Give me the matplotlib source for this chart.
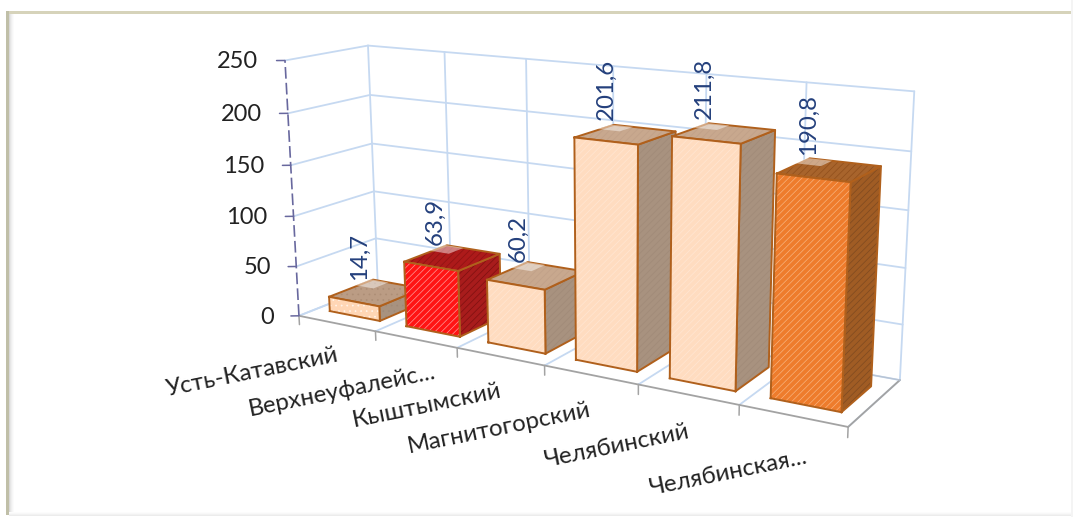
import numpy as np
import matplotlib
matplotlib.use('Agg')
import matplotlib.pyplot as plt
from matplotlib.patches import Rectangle
from mpl_toolkits.mplot3d import proj3d
from mpl_toolkits.mplot3d.art3d import Poly3DCollection

W, H = 1073, 517
plt.rcParams['font.family'] = ['Lato', 'Open Sans', 'DejaVu Sans']
plt.rcParams['hatch.linewidth'] = 0.5

#-------------------------------------------------------------------------------
# Data
#-------------------------------------------------------------------------------
categories = ['Усть-Катавский', 'Верхнеуфалейс...', 'Кыштымский',
              'Магнитогорский', 'Челябинский', 'Челябинская...']
values     = [14.7, 63.9, 60.2, 201.6, 211.8, 190.8]
yticks     = [0, 50, 100, 150, 200, 250]

#-------------------------------------------------------------------------------
# Styles (front, top, side, hatch front, hatch top, hatch side, hatch pattern)
#-------------------------------------------------------------------------------
pale = ('#ffdcc0', '#c8a88e', '#a8927f', '#ffe6d3', '#c0a088', '#a08a78', '/////')
dots = ('#ffd6b5', '#bb9c84', '#a8927f', '#fff4ea', '#ad8e76', '#9f8a78', '...')
red  = ('#ff1414', '#ad1a1a', '#a81c1c', '#ff9a9a', '#8c1212', '#7c1010', '/////')
orng = ('#ee7c2c', '#a8642c', '#a05c24', '#f9b27c', '#8f4e1c', '#7e4a20', '/////')
bar_styles = [dots, red, pale, pale, pale, orng]
edge_color = '#b0601c'
grid_color = '#c6d9f1'
axis_gray  = '#a3a3a3'
axis_blue  = '#68689e'
text_blue  = '#24407c'
text_dark  = '#222222'

#-------------------------------------------------------------------------------
# Camera: fit a projective matrix to where the chart box sits in the picture
#-------------------------------------------------------------------------------
calib = [
    (0, 0, 0, 299, 316), (0, 0, 50, 296.3, 266), (0, 0, 100, 293.7, 216),
    (0, 0, 150, 291, 165), (0, 0, 200, 287.7, 113.3), (0, 0, 250, 285, 60.7),
    (0, 1, 0, 377.7, 285), (0, 1, 50, 376, 238.3), (0, 1, 100, 374, 191),
    (0, 1, 150, 372.3, 143.3), (0, 1, 200, 370, 95), (0, 1, 250, 367.7, 45),
    (6, 1, 0, 900, 380), (6, 1, 50, 902.7, 324), (6, 1, 100, 905, 268.3),
    (6, 1, 150, 908.3, 210), (6, 1, 200, 911.7, 151.7), (6, 1, 250, 914.3, 91.7),
    (1, 0, 0, 375, 331.7), (2, 0, 0, 457.3, 348.3), (3, 0, 0, 545, 365),
    (4, 0, 0, 638.3, 385), (5, 0, 0, 738.3, 405), (6, 0, 0, 848.7, 426.7),
    (1, 1, 250, 444.3, 52.7), (2, 1, 250, 526, 59.3), (5, 1, 250, 806.7, 81.7),
]

def fit_camera(points):
    rows = []
    for x, y, z, px, py in points:
        X = [x / 6., y, z / 250., 1.]
        u, v = px / W, (H - py) / W
        rows.append(X + [0, 0, 0, 0] + [-u * a for a in X])
        rows.append([0, 0, 0, 0] + X + [-v * a for a in X])
    vt = np.linalg.svd(np.array(rows))[2]
    P = vt[-1].reshape(3, 4)
    P = P @ np.diag([1 / 6., 1., 1 / 250., 1.])
    return np.diag([W, W, 1.]) @ P

fig = plt.figure(figsize=(W / 100, H / 100), dpi=100, facecolor='white')
# square 3D axes covering the whole figure, so nothing gets clipped
ax = fig.add_axes([0, 0.5 - 0.5 * W / H, 1, W / H], projection='3d', computed_zorder=False)
ax.set_axis_off()
ax.patch.set_visible(False)
ax.apply_aspect()

P = ax.transData.inverted().get_matrix() @ fit_camera(calib)
M = np.array([P[0], P[1], [0, 1., 0.001, 0.5], P[2]])
ax.get_proj = lambda: M

def line3(xs, ys, zs, **kw):
    ax.plot(xs, ys, zs, solid_capstyle='round', **kw)

def text3(x, y, z, s, **kw):
    # Text3D overrides the rotation, so place plain text at the projected point
    tx, ty, _ = proj3d.proj_transform(x, y, z, M)
    ax.text2D(tx, ty, s, **kw)

#-------------------------------------------------------------------------------
# Walls, floor and axes
#-------------------------------------------------------------------------------
grid = dict(color=grid_color, lw=1.3, zorder=1)
for z in yticks:
    line3([0, 0], [0, 1], [z, z], **grid)
    line3([0, 6], [1, 1], [z, z], **grid)
for k in range(7):
    line3([k, k], [1, 1], [0, 250], **grid)
    line3([k, k], [0, 1], [0, 0], **grid)

line3([0, 6], [0, 0], [0, 0], color=axis_gray, lw=1.3, zorder=2)
line3([6, 6], [0, 1], [0, 0], color=axis_gray, lw=1.3, zorder=2)
line3([0, 6], [1, 1], [0, 0], color='#b8c4d4', lw=1.0, zorder=2)
for k in range(7):
    line3([k, k], [0, 0], [0, -9], color=axis_gray, lw=1.1, zorder=2)

ax.plot([0, 0], [0, 0], [0, 250], color=axis_blue, lw=1.2, ls=(0, (7, 2.5)), zorder=2)
for z in yticks:
    line3([0, -0.069], [0, -0.035], [z, z], color=axis_blue, lw=1.1, zorder=2)
    text3(-0.193, -0.13, z, str(z), ha='right', va='center', fontsize=17,
          color=text_dark, zorder=3)

#-------------------------------------------------------------------------------
# Bars
#-------------------------------------------------------------------------------
bar_w = 0.33   # half width along categories
y0, y1 = 0.22, 0.78

def add_face(verts, fc, hc, hatch, zo):
    ax.add_collection3d(Poly3DCollection([verts], facecolors=fc, edgecolors=hc,
                                         linewidths=0, hatch=hatch, zorder=zo))
    ring = np.array(verts + verts[:1])
    ax.plot(ring[:, 0], ring[:, 1], ring[:, 2], color=edge_color, lw=1.4,
            solid_joinstyle='round', zorder=zo + 0.1)

for i, (val, st) in enumerate(zip(values, bar_styles)):
    xa, xb = i + 0.5 - bar_w, i + 0.5 + bar_w
    zo = 10 + 2 * i
    front = [(xa, y0, 0), (xb, y0, 0), (xb, y0, val), (xa, y0, val)]
    side  = [(xb, y0, 0), (xb, y1, 0), (xb, y1, val), (xb, y0, val)]
    top   = [(xa, y0, val), (xb, y0, val), (xb, y1, val), (xa, y1, val)]
    add_face(side, st[2], st[5], st[6], zo + 0.2)
    add_face(top, st[1], st[4], st[6], zo + 0.4)
    add_face(front, st[0], st[3], st[6], zo + 0.6)
    # pale patch left by the value label on the top face
    cx = i + 0.5 - 0.24
    patch = [(cx - 0.12, y1 - 0.2, val), (cx + 0.12, y1 - 0.2, val),
             (cx + 0.12, y1, val), (cx - 0.12, y1, val)]
    ax.add_collection3d(Poly3DCollection([patch], facecolors=(1, 1, 1, 0.45),
                                         edgecolors='none', zorder=zo + 0.9))
    text3(i + 0.5 - 0.19, 0.48, val + 11, str(val).replace('.', ','), rotation=90,
          ha='center', va='bottom', fontsize=17.3, color=text_blue, zorder=zo)

#-------------------------------------------------------------------------------
# Category labels
#-------------------------------------------------------------------------------
label_dx = [0.01, 0.23, 0.0, 0.0, 0.02, 0.15]
label_dz = [-32, -28, -32, -32, -32, -32]
for i, (name, dx, dz) in enumerate(zip(categories, label_dx, label_dz)):
    text3(i + 0.5 + dx, 0, dz, name, rotation=11.5, rotation_mode='anchor',
          ha='right', va='center', fontsize=17.3, color=text_dark, zorder=40)

#-------------------------------------------------------------------------------
# Frame around the picture
#-------------------------------------------------------------------------------
def px_rect(x0, y0_, x1, y1_, color):
    fig.add_artist(Rectangle((x0 / W, 1 - y1_ / H), (x1 - x0) / W, (y1_ - y0_) / H,
                             transform=fig.transFigure, fc=color, ec='none', zorder=50))

px_rect(7, 11, W, 14, '#d6d3ba')
px_rect(6, 11, 9, 515, '#c0bfa8')
for k, c in enumerate(['#d8d8d8', '#e6e6e6', '#efefef', '#f6f6f6', '#fbfbfb']):
    px_rect(9 + k, 14, 10 + k, 513, c)
for k, c in enumerate(['#fcfcfc', '#f8f8f8', '#f2f2f2', '#ececec']):
    px_rect(9, 512 + k, W, 513 + k, c)
px_rect(W - 2, 0, W, H, '#f4f4f4')

fig.savefig('out.png', dpi=100)
